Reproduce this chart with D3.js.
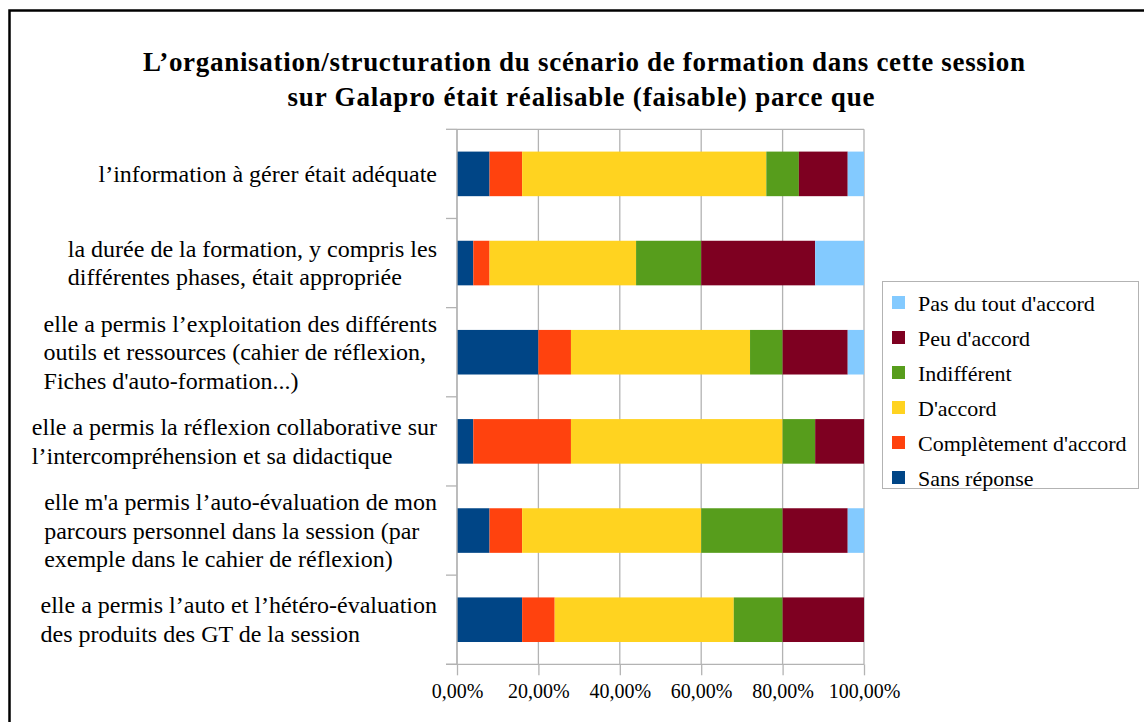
<!DOCTYPE html>
<html><head><meta charset="utf-8">
<script src="https://cdn.jsdelivr.net/npm/d3@7"></script>
<style>
html,body{margin:0;padding:0;background:#fff;}
svg{display:block;}
text{font-family:"Liberation Serif","Times New Roman",serif;fill:#000;}
</style></head>
<body><svg id="c" width="1144" height="722"></svg>
<script>
const title = ["L’organisation/structuration du scénario de formation dans cette session",
               "sur Galapro était réalisable (faisable) parce que"];
const categories = [
  ["l’information à gérer était adéquate"],
  ["la durée de la formation, y compris les","différentes phases, était appropriée"],
  ["elle a permis l’exploitation des différents","outils et ressources (cahier de réflexion,","Fiches d'auto-formation...)"],
  ["elle a permis la réflexion collaborative sur","l’intercompréhension et sa didactique"],
  ["elle m'a permis l’auto-évaluation de mon","parcours personnel dans la session (par","exemple dans le cahier de réflexion)"],
  ["elle a permis l’auto et l’hétéro-évaluation","des produits des GT de la session"]
];
const seriesNames = ["Sans réponse","Complètement d'accord","D'accord","Indifférent","Peu d'accord","Pas du tout d'accord"];
const seriesColors = ["#004586","#ff420e","#ffd320","#579d1c","#7e0021","#83caff"];
const sansReponse   = [8, 4, 20, 4, 8, 16];
const completement  = [8, 4, 8, 24, 8, 8];
const dAccord       = [60, 36, 44, 52, 44, 44];
const indifferent   = [8, 16, 8, 8, 20, 12];
const peuDAccord    = [12, 28, 16, 12, 16, 20];
const pasDuTout     = [4, 12, 4, 0, 4, 0];
const xTicks = [0, 20, 40, 60, 80, 100];

const seriesValues = [sansReponse, completement, dAccord, indifferent, peuDAccord, pasDuTout];

const svg = d3.select("#c");
svg.append("rect").attr("x",9.5).attr("y",10.5).attr("width",1140).attr("height",720)
  .attr("fill","none").attr("stroke","#000").attr("stroke-width",2.5);

// title
const titleWidths = [882, 587];
const titleCx = [584, 581];
const titleY = [71, 106];
title.forEach((t,i)=>{
  svg.append("text").attr("x",titleCx[i]).attr("y",titleY[i]).attr("text-anchor","middle")
    .attr("textLength",titleWidths[i]).attr("lengthAdjust","spacing")
    .style("font-size","27px").style("font-weight","bold").text(t);
});

const pLeft = 457, pRight = 864, pTop = 129.3, pBottom = 664.3;
const x = d3.scaleLinear().domain([0,100]).range([pLeft,pRight]);
const y = d3.scaleBand().domain(d3.range(categories.length)).range([pTop,pBottom]).paddingInner(0.5).paddingOuter(0.25);
const yb = d3.scaleBand().domain(d3.range(categories.length)).range([pTop,pBottom]);

const grid = "#b3b3b3";
svg.append("g").selectAll("line").data(xTicks).join("line")
  .attr("x1",d=>x(d)).attr("x2",d=>x(d)).attr("y1",pTop).attr("y2",pBottom)
  .attr("stroke",grid).attr("stroke-width",1.3);
svg.append("line").attr("x1",pLeft).attr("x2",pRight).attr("y1",pTop).attr("y2",pTop).attr("stroke",grid).attr("stroke-width",1.3);

const stackData = categories.map((c,i)=>{
  const o = {i};
  seriesNames.forEach((s,k)=>o[s]=seriesValues[k][i]);
  return o;
});
const stack = d3.stack().keys(seriesNames)(stackData);
svg.append("g").selectAll("g").data(stack).join("g")
  .attr("fill",(d,k)=>seriesColors[k])
  .selectAll("rect").data(d=>d).join("rect")
  .attr("x",d=>x(d[0])).attr("width",d=>x(d[1])-x(d[0]))
  .attr("y",d=>y(d.data.i)).attr("height",y.bandwidth());

const xAxis = svg.append("g").attr("transform",`translate(0,${pBottom})`)
  .call(d3.axisBottom(x).tickValues(xTicks).tickSize(11).tickPadding(9)
    .tickFormat(d=>d3.format(".2f")(d).replace(".",",")+"%"));
xAxis.select(".domain").remove();
xAxis.selectAll(".tick line").attr("stroke",grid).attr("stroke-width",1.3);
xAxis.selectAll(".tick text").style("font-size","20px").style("font-family","Liberation Serif").attr("fill","#000");
svg.append("line").attr("x1",446).attr("x2",pRight).attr("y1",pBottom).attr("y2",pBottom).attr("stroke",grid).attr("stroke-width",1.3);

const bounds = d3.range(categories.length+1).map(i=>pTop + i*yb.step());
svg.append("g").selectAll("line").data(bounds).join("line")
  .attr("x1",446).attr("x2",pLeft).attr("y1",d=>d).attr("y2",d=>d)
  .attr("stroke",grid).attr("stroke-width",1.3);
svg.append("line").attr("x1",pLeft).attr("x2",pLeft).attr("y1",pTop).attr("y2",pBottom).attr("stroke",grid).attr("stroke-width",1.3);

const lh = 28.5;
categories.forEach((lines,i)=>{
  const cy = yb(i) + yb.bandwidth()/2;
  const g = svg.append("g");
  const ts = lines.map((t,j)=> g.append("text").attr("y", cy + (j-(lines.length-1)/2)*lh + 8)
      .style("font-size","24px").text(t));
  const maxW = d3.max(ts, t=>t.node().getComputedTextLength());
  ts.forEach(t=>t.attr("x", 437 - maxW));
});

svg.append("rect").attr("x",882.5).attr("y",281.5).attr("width",256).attr("height",207)
  .attr("fill","#fff").attr("stroke",grid).attr("stroke-width",1);
const legOrder = d3.range(seriesNames.length).reverse();
const lg = svg.append("g").selectAll("g").data(legOrder).join("g")
  .attr("transform",(d,j)=>`translate(892,${303 + j*35})`);
lg.append("rect").attr("x",0).attr("y",-7).attr("width",13).attr("height",13).attr("fill",d=>seriesColors[d]);
lg.append("text").attr("x",26).attr("y",7.5).style("font-size","22px").text(d=>seriesNames[d]);
</script></body></html>
